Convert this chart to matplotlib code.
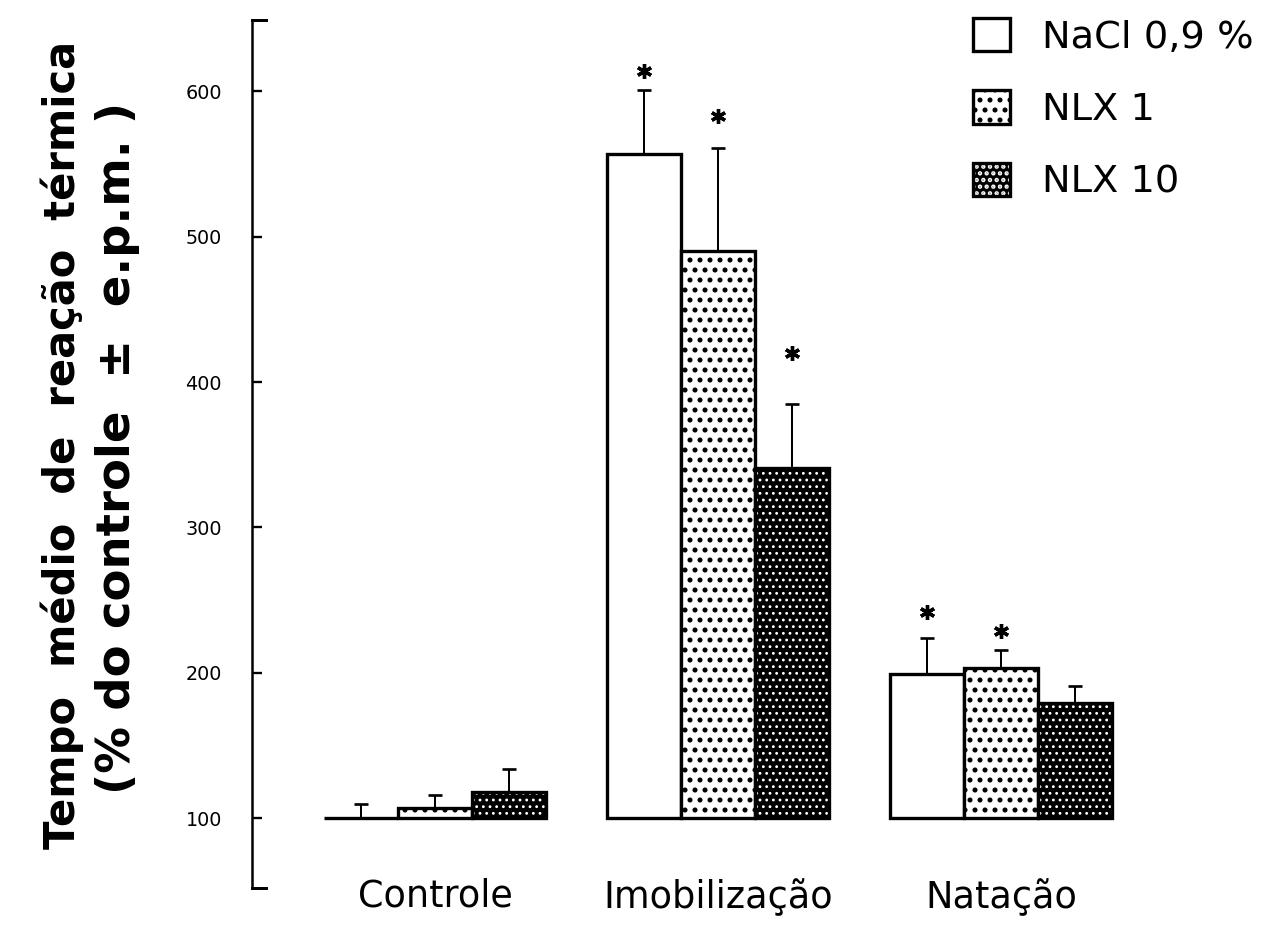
import numpy as np
import matplotlib

matplotlib.use("Agg")
import matplotlib.pyplot as plt

# data (bars start at the 100 % baseline)
groups = ["Controle", "Imobilização", "Natação"]
series = ["NaCl 0,9 %", "NLX 1", "NLX 10"]
nacl_mean = [100, 557, 199]
nacl_sem = [10, 44, 25]
nlx1_mean = [107, 490, 203]
nlx1_sem = [9, 71, 13]
nlx10_mean = [118, 341, 179]
nlx10_sem = [16, 44, 12]
# level of the "*" marks (nan = not significant)
nacl_star = [np.nan, 614, 242]
nlx1_star = [np.nan, 583, 229]
nlx10_star = [np.nan, 420, np.nan]
yticks = [100, 200, 300, 400, 500, 600]

BASE = 100
DPI = 120
plt.rcParams["font.family"] = ["DejaVu Sans"]
plt.rcParams["hatch.linewidth"] = 1.8

fig = plt.figure(figsize=(1264 / DPI, 931 / DPI), dpi=DPI)
ax = fig.add_axes([0.1994, 0.0462, 0.8006, 0.9323])

x = np.arange(len(groups))
w = 0.262
edge_lw = 2.0

b_nacl = ax.bar(x - w, np.array(nacl_mean) - BASE, w, bottom=BASE,
                facecolor="white", edgecolor="black", linewidth=edge_lw, zorder=2)
b_nlx1 = ax.bar(x, np.array(nlx1_mean) - BASE, w, bottom=BASE,
                facecolor="white", edgecolor="black", linewidth=edge_lw,
                hatch="..", zorder=2)
# dense pattern: white dots on black, outline drawn separately
with plt.rc_context({"hatch.color": "white", "hatch.linewidth": 0.9}):
    b_nlx10_fill = ax.bar(x + w, np.array(nlx10_mean) - BASE, w, bottom=BASE,
                          facecolor="black", edgecolor=None, linewidth=0,
                          hatch="...", zorder=2)
b_nlx10_edge = ax.bar(x + w, np.array(nlx10_mean) - BASE, w, bottom=BASE,
                      fill=False, edgecolor="black", linewidth=edge_lw, zorder=2.1)

for off, mean, sem, star in [(-w, nacl_mean, nacl_sem, nacl_star),
                             (0, nlx1_mean, nlx1_sem, nlx1_star),
                             (w, nlx10_mean, nlx10_sem, nlx10_star)]:
    ax.errorbar(x + off, mean, yerr=[np.zeros(len(sem)), sem], fmt="none",
                ecolor="black", elinewidth=1.2, capsize=4.2, capthick=1.6,
                zorder=1.5)
    ax.plot(x + off, star, linestyle="none", marker=(6, 2, 0), markersize=9,
            markeredgewidth=2.0, color="black", zorder=3)

ax.set_xlim(-0.647, 2.929)
ax.set_ylim(52, 649)
ax.set_yticks(yticks)
ax.set_xticks(x)
ax.set_xticklabels(groups, fontsize=22)
ax.tick_params(axis="x", length=0, pad=-6)
ax.tick_params(axis="y", direction="in", length=6, width=1.4, pad=18,
               labelsize=11.5)

for side in ["top", "right", "bottom"]:
    ax.spines[side].set_visible(False)
ax.spines["left"].set_linewidth(1.5)
# bracket ends of the y axis
for yy in (0, 1):
    ax.plot([0, 0.014], [yy, yy], transform=ax.transAxes, color="black",
            linewidth=1.8, solid_capstyle="projecting", clip_on=False)

fig.text(62 / 1264, 0.522, "Tempo  médio  de  reação  térmica", rotation=90,
         ha="center", va="center", fontsize=25, fontweight="bold")
fig.text(118 / 1264, 0.519, "(% do controle  ±  e.p.m. )", rotation=90,
         ha="center", va="center", fontsize=28, fontweight="bold")

ax.legend([b_nacl, b_nlx1, (b_nlx10_fill, b_nlx10_edge)], series,
          loc="upper left", bbox_to_anchor=(0.7698, 0.981),
          bbox_transform=fig.transFigure, frameon=False, fontsize=23,
          handlelength=0.97, handleheight=0.97, handletextpad=0.84,
          labelspacing=0.9, borderpad=0, borderaxespad=0)

fig.savefig("out.png", dpi=DPI)
